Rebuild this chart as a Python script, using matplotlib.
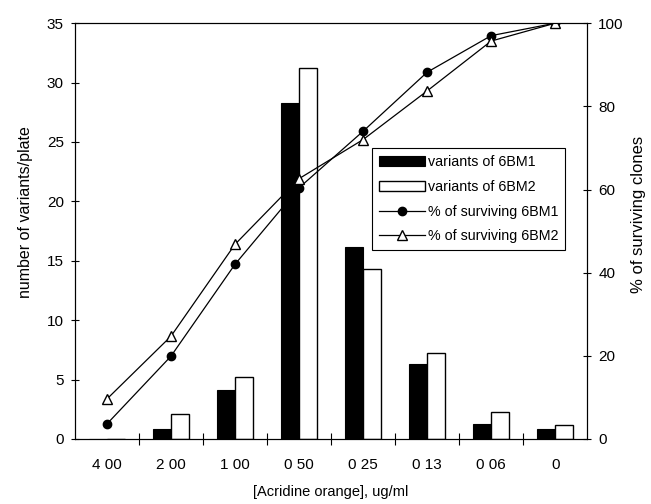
import numpy as np
import matplotlib
matplotlib.use('Agg')
import matplotlib.pyplot as plt

plt.rcParams['font.family'] = ['Liberation Sans', 'DejaVu Sans']

# concentrations (as printed on the axis)
conc = ['4 00', '2 00', '1 00', '0 50', '0 25', '0 13', '0 06', '0']

# variants per plate (left axis)
var6BM1 = [0.0, 0.8, 4.1, 28.3, 16.2, 6.3, 1.3, 0.8]
var6BM2 = [0.0, 2.1, 5.2, 31.2, 14.3, 7.2, 2.3, 1.2]

# % surviving clones (right axis)
surv6BM1 = [3.6, 19.9, 42.0, 60.4, 74.0, 88.2, 97.0, 100.0]
surv6BM2 = [9.6, 24.7, 46.8, 62.6, 72.0, 83.7, 95.7, 100.0]

fig = plt.figure(figsize=(6.51, 5.04), dpi=100)
ax = fig.add_axes([0.115, 0.129, 0.787, 0.825])
ax2 = ax.twinx()

x = np.arange(len(conc))
w = 0.28
b1 = ax.bar(x - w/2, var6BM1, w, color='black', edgecolor='black', lw=0.8,
            label='variants of 6BM1')
b2 = ax.bar(x + w/2, var6BM2, w, color='white', edgecolor='black', lw=1.0,
            label='variants of 6BM2')

l1, = ax2.plot(x, surv6BM1, color='black', lw=0.9, marker='o', ms=6,
               mfc='black', mec='black', label='% of surviving 6BM1')
l2, = ax2.plot(x, surv6BM2, color='black', lw=0.9, marker='^', ms=7,
               mfc='white', mec='black', mew=1.0, label='% of surviving 6BM2')

ax.set_xlim(-0.5, len(conc) - 0.5)
ax.set_ylim(0, 35)
ax2.set_ylim(0, 100)

ax.set_yticks(np.arange(0, 36, 5))
ax2.set_yticks(np.arange(0, 101, 20))
ax.set_xticks(x)
ax.set_xticklabels(conc)
# category separators as tick marks
ax.set_xticks(np.arange(0.5, len(conc) - 0.5, 1), minor=True)
ax.tick_params(axis='x', which='major', length=0, pad=14, labelsize=11)
ax.tick_params(axis='x', which='minor', direction='inout', length=8, width=0.8)
ax.tick_params(axis='y', direction='inout', length=6, width=0.8, labelsize=11, pad=5)
ax2.tick_params(axis='y', direction='inout', length=6, width=0.8, labelsize=11, pad=5)

for a in (ax, ax2):
    for s in a.spines.values():
        s.set_linewidth(0.8)

ax.set_xlabel('[Acridine orange], ug/ml', fontsize=10.5, labelpad=9)
ax.set_ylabel('number of variants/plate', fontsize=11.5)
ax2.set_ylabel('% of surviving clones', fontsize=12)
ax.yaxis.set_label_coords(-0.082, 0.546)
ax2.yaxis.set_label_coords(1.086, 0.541)

leg = ax2.legend([b1, b2, l1, l2],
                 [b1.get_label(), b2.get_label(), l1.get_label(), l2.get_label()],
                 loc='upper left', bbox_to_anchor=(0.58, 0.70), borderaxespad=0,
                 fancybox=False, edgecolor='black', framealpha=1, fontsize=10.3,
                 handlelength=3.2, labelspacing=0.75, handletextpad=0.2,
                 borderpad=0.5)
leg.get_frame().set_linewidth(0.8)

fig.savefig('out.png', dpi=100)
